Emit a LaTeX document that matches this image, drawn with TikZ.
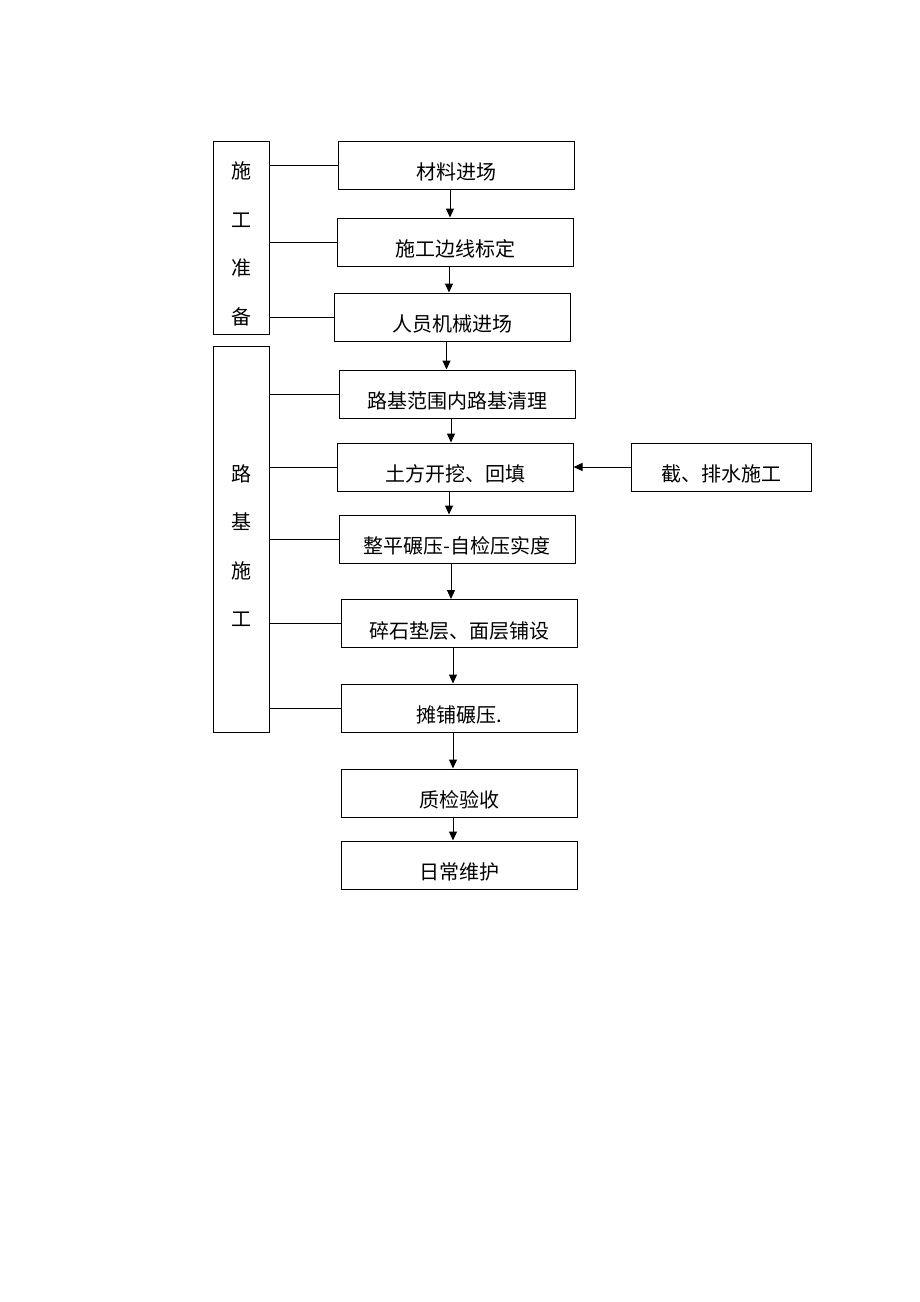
\documentclass[tikz,border=0pt]{standalone}
\usepackage{fontspec}
\newfontfamily\cjk{Noto Sans CJK SC}
\usetikzlibrary{arrows.meta}

\newcommand\tallstrut{\rule{0pt}{30pt}}

\begin{document}
\begin{tikzpicture}[x=1pt,y=-1pt,
  proc/.style={draw, line width=1pt, minimum width=236pt, minimum height=48pt, inner sep=0pt, text height=31pt, text depth=2pt, font=\cjk\fontsize{20}{24}\selectfont},
  phase/.style={draw, line width=1pt, minimum width=56pt, inner sep=0pt, align=center, font=\cjk\fontsize{20}{48.5}\selectfont},
  flow/.style={line width=1pt, -{Triangle[length=9pt,width=8pt]}},
  link/.style={line width=1pt}]
  \useasboundingbox (0,0) rectangle (920,1302);

	  \node[phase, minimum height=193pt] (prep) at (241,237.5) {\tallstrut 施\\工\\准\\备} ; %
	  \node[phase, minimum height=386pt] (base) at (241,539) {\tallstrut 路\\基\\施\\工} ; %

	  \node[proc] (mat) at (456,165) {材料进场};
	  \node[proc] (edge) at (455,242) {施工边线标定};
	  \node[proc] (crew) at (452.5,317) {人员机械进场};
	  \node[proc] (clear) at (457,394) {路基范围内路基清理};
	  \node[proc] (earth) at (455,467) {土方开挖、回填};
	  \node[proc, minimum width=180pt] (drain) at (721,467) {截、排水施工};
	  \node[proc] (roll) at (457,539) {整平碾压-自检压实度};
	  \node[proc] (gravel) at (459,623.5) {碎石垫层、面层铺设};
	  \node[proc] (pave) at (459,708) {摊铺碾压.};
	  \node[proc] (check) at (459,793) {质检验收};
	  \node[proc] (care) at (459,865) {日常维护};

          % stage links
          \foreach \s in {mat,edge,crew}
            \draw[link] (prep.east |- \s) -- (\s.west);
          \foreach \s in {clear,earth,roll,gravel,pave}
            \draw[link] (base.east |- \s) -- (\s.west);

          % main flow
          \foreach \a/\b in {mat/edge,edge/crew,crew/clear,clear/earth,earth/roll,roll/gravel,gravel/pave,pave/check,check/care}
            \draw[flow] ([xshift=-6pt]\a.south) -- ([xshift=-6pt]\a.south |- \b.north);
          \draw[flow] (drain) -- (earth) ;

\end{tikzpicture}
\end{document}
